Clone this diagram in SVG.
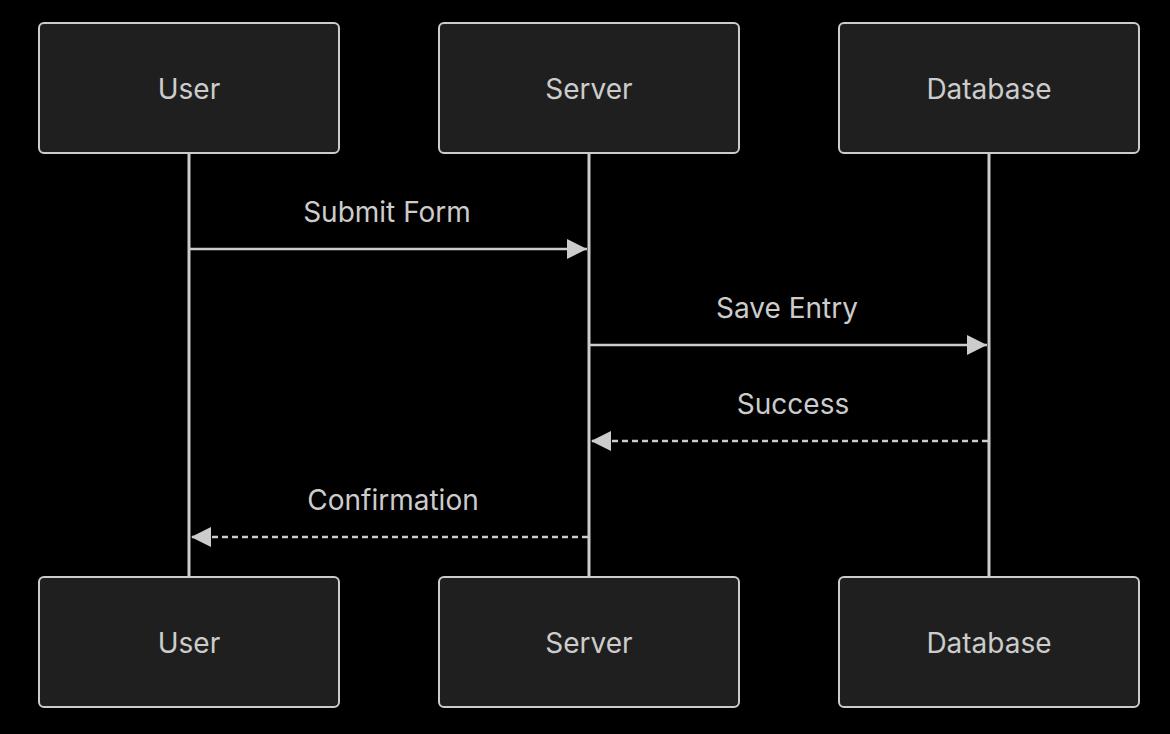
<svg xmlns="http://www.w3.org/2000/svg" width="1170" height="734" viewBox="0 0 1170 734">
<style>
.box{fill:#1f1f1f;stroke:#cccccc;stroke-width:2}
.t{fill:#cccccc;font-family:Inter,"Liberation Sans",sans-serif;font-size:28px;text-anchor:middle}
.life{stroke:#cccccc;stroke-width:3}
.msg{stroke:#cccccc;stroke-width:2.5;fill:none}
.dash{stroke-dasharray:6 4}
</style>
<defs>
<marker id="ah" viewBox="0 0 20 20" refX="20" refY="10" markerWidth="20" markerHeight="20" markerUnits="userSpaceOnUse" orient="auto">
<path d="M0,0 L20,10 L0,20 z" fill="#cccccc"/>
</marker>
</defs>
<rect width="1170" height="734" fill="#000"/>
<g id="lifelines">
<line class="life" x1="189" y1="153" x2="189" y2="577"/>
<line class="life" x1="589" y1="153" x2="589" y2="577"/>
<line class="life" x1="989" y1="153" x2="989" y2="577"/>
</g>
<g id="user-top"><rect class="box" x="39" y="23" width="300" height="130" rx="5"/><text class="t" x="189" y="99">User</text></g>
<g id="server-top"><rect class="box" x="439" y="23" width="300" height="130" rx="5"/><text class="t" x="589" y="99">Server</text></g>
<g id="db-top"><rect class="box" x="839" y="23" width="300" height="130" rx="5"/><text class="t" x="989" y="99">Database</text></g>
<g id="user-bottom"><rect class="box" x="39" y="577" width="300" height="130" rx="5"/><text class="t" x="189" y="653">User</text></g>
<g id="server-bottom"><rect class="box" x="439" y="577" width="300" height="130" rx="5"/><text class="t" x="589" y="653">Server</text></g>
<g id="db-bottom"><rect class="box" x="839" y="577" width="300" height="130" rx="5"/><text class="t" x="989" y="653">Database</text></g>
<g id="connectors">
<line class="msg" x1="190" y1="249" x2="587" y2="249" marker-end="url(#ah)"/>
<text class="t" x="387" y="222">Submit Form</text>
<line class="msg" x1="590" y1="345" x2="987" y2="345" marker-end="url(#ah)"/>
<text class="t" x="787" y="318">Save Entry</text>
<line class="msg dash" x1="988" y1="441" x2="591" y2="441" marker-end="url(#ah)"/>
<text class="t" x="793" y="414">Success</text>
<line class="msg dash" x1="588" y1="537" x2="191" y2="537" marker-end="url(#ah)"/>
<text class="t" x="393" y="510">Confirmation</text>
</g>
</svg>
